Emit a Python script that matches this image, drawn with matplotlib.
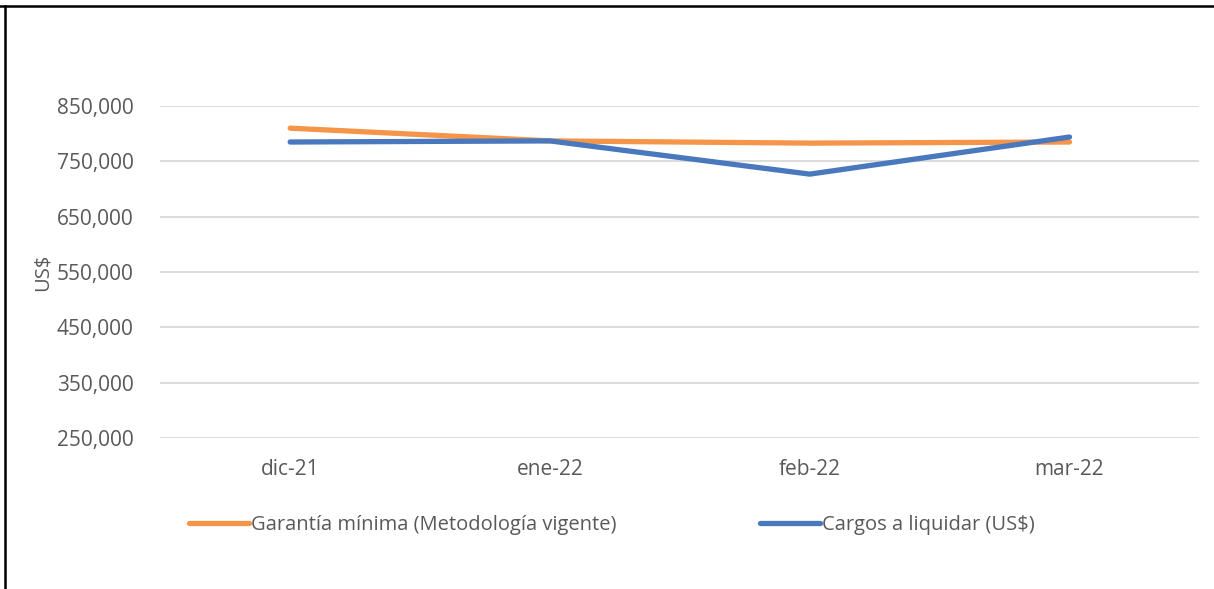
import matplotlib.pyplot as plt
from matplotlib.lines import Line2D
from matplotlib.ticker import FuncFormatter

# data
months = ["dic-21", "ene-22", "feb-22", "mar-22"]
garantia_minima = [810000, 787000, 783000, 785000]
cargos_liquidar = [785000, 787000, 727000, 794000]
y_ticks = [250000, 350000, 450000, 550000, 650000, 750000, 850000]

plt.rcParams['font.family'] = ['Open Sans', 'DejaVu Sans']

fig = plt.figure(figsize=(12.14, 5.89), dpi=100)
ax = fig.add_axes([0.132, 0.256, 0.856, 0.564])

x = list(range(len(months)))
ax.plot(x, garantia_minima, color='#F4954A', lw=3.8, solid_capstyle='round',
        label='Garantía mínima (Metodología vigente)', zorder=3)
ax.plot(x, cargos_liquidar, color='#4A78BE', lw=3.8, solid_capstyle='round',
        label='Cargos a liquidar (US$)', zorder=4)

ax.set_xlim(-0.5, len(months) - 0.5)
ax.set_ylim(y_ticks[0], y_ticks[-1])
ax.set_yticks(y_ticks)
ax.yaxis.set_major_formatter(FuncFormatter(lambda v, p: f"{int(v):,}"))
ax.set_xticks(x)
ax.set_xticklabels(months)
ax.grid(axis='y', color='#d9d9d9', lw=1.3)
ax.set_axisbelow(True)
for s in ax.spines.values():
    s.set_visible(False)
ax.tick_params(axis='both', length=0, labelsize=15, labelcolor='#595959')
ax.tick_params(axis='y', pad=19)
ax.tick_params(axis='x', pad=15)
ax.set_ylabel("US$", fontsize=14.5, color='#595959')
ax.yaxis.set_label_coords(-0.104, 0.5)

leg = fig.legend(loc='center', bbox_to_anchor=(0.504, 0.109), ncol=2, frameon=False,
                 fontsize=14.5, handlelength=3.0, handletextpad=0.1, columnspacing=7.1)
for t in leg.get_texts():
    t.set_color('#595959')

# border lines of the surrounding table cell
fig.add_artist(Line2D([0, 1], [0.99, 0.99], transform=fig.transFigure, color='black', lw=1.8))
fig.add_artist(Line2D([0.0045, 0.0045], [0, 0.99], transform=fig.transFigure, color='black', lw=1.8))

fig.savefig("out.png", dpi=100)
